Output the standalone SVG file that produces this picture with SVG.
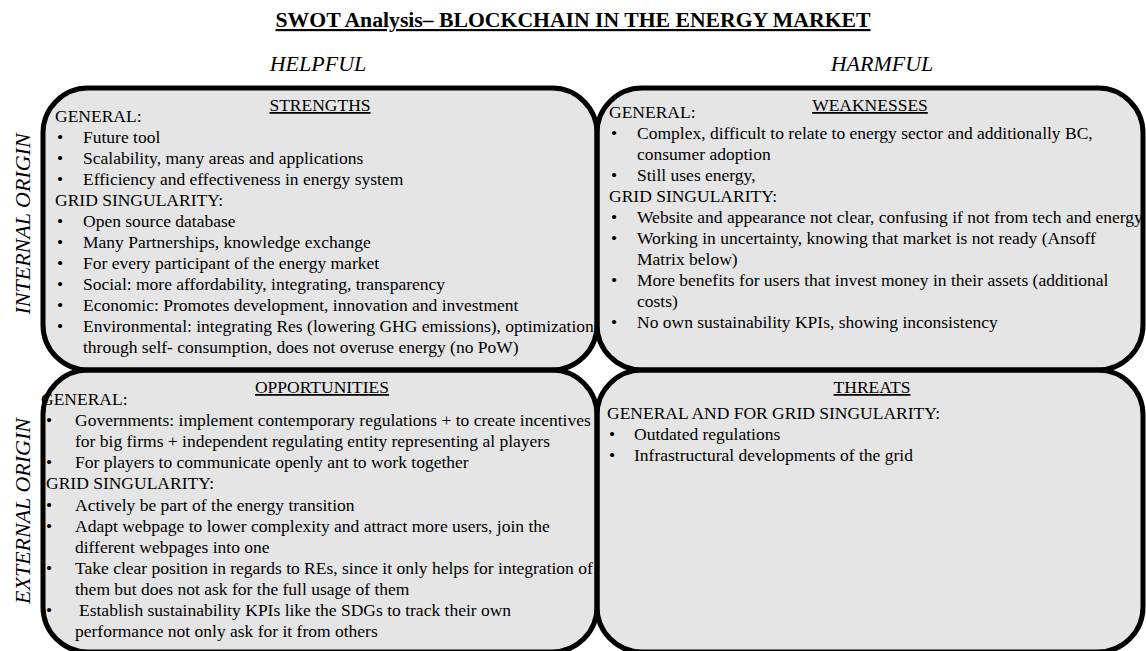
<svg xmlns="http://www.w3.org/2000/svg" width="1146" height="651" viewBox="0 0 1146 651" font-family="Liberation Serif, Tinos, Times New Roman, DejaVu Serif, serif">
  <style>
    text { font-family: 'Liberation Serif', Tinos, 'Times New Roman', 'DejaVu Serif', serif; fill: #000; }
    .title { font-size: 21.7px; font-weight: bold; text-decoration: underline; }
    .axis { font-size: 22px; font-style: italic; }
    .head { font-size: 17.5px; text-decoration: underline; }
    .body { font-size: 17.5px; }
    .box { fill: #e5e5e5; stroke: none; }
    .frame { fill: none; stroke: #000; stroke-width: 5; }
  </style>
  <defs>
    <rect id="quad-left" width="554" height="282" rx="45" ry="45"/>
    <rect id="quad-right" width="546" height="282" rx="45" ry="45"/>
  </defs>

  <rect width="1146" height="651" fill="#fff"/>

  <!-- heading and axis labels -->
  <text class="title" x="573" y="27" text-anchor="middle">SWOT Analysis– BLOCKCHAIN IN THE ENERGY MARKET</text>
  <text class="axis" x="318" y="71" text-anchor="middle">HELPFUL</text>
  <text class="axis" x="882" y="71" text-anchor="middle">HARMFUL</text>
  <text class="axis" transform="translate(30 224) rotate(-90)" text-anchor="middle">INTERNAL ORIGIN</text>
  <text class="axis" transform="translate(30 511) rotate(-90)" text-anchor="middle">EXTERNAL ORIGIN</text>

  <!-- quadrant fills -->
  <use href="#quad-left" class="box" x="43" y="88"/>
  <use href="#quad-right" class="box" x="597" y="88"/>
  <use href="#quad-left" class="box" x="43" y="370"/>
  <use href="#quad-right" class="box" x="597" y="370"/>

  <g id="strengths">
    <text class="head" x="320" y="111" text-anchor="middle">STRENGTHS</text>
    <text class="body" x="55" y="122">GENERAL:</text>
    <text class="body" x="57" y="143">•</text><text class="body" x="83" y="143">Future tool</text>
    <text class="body" x="57" y="164">•</text><text class="body" x="83" y="164">Scalability, many areas and applications</text>
    <text class="body" x="57" y="185">•</text><text class="body" x="83" y="185">Efficiency and effectiveness in energy system</text>
    <text class="body" x="55" y="206">GRID SINGULARITY:</text>
    <text class="body" x="57" y="227">•</text><text class="body" x="83" y="227">Open source database</text>
    <text class="body" x="57" y="248">•</text><text class="body" x="83" y="248">Many Partnerships, knowledge exchange</text>
    <text class="body" x="57" y="269">•</text><text class="body" x="83" y="269">For every participant of the energy market</text>
    <text class="body" x="57" y="290">•</text><text class="body" x="83" y="290">Social: more affordability, integrating, transparency</text>
    <text class="body" x="57" y="311">•</text><text class="body" x="83" y="311">Economic: Promotes development, innovation and investment</text>
    <text class="body" x="57" y="332">•</text><text class="body" x="83" y="332">Environmental: integrating Res (lowering GHG emissions), optimization</text>
    <text class="body" x="83" y="353">through self- consumption, does not overuse energy (no PoW)</text>
  </g>

  <g id="weaknesses">
    <text class="head" x="870" y="111" text-anchor="middle">WEAKNESSES</text>
    <text class="body" x="609" y="118">GENERAL:</text>
    <text class="body" x="611" y="139">•</text><text class="body" x="637" y="139">Complex, difficult to relate to energy sector and additionally BC,</text>
    <text class="body" x="637" y="160">consumer adoption</text>
    <text class="body" x="611" y="181">•</text><text class="body" x="637" y="181">Still uses energy,</text>
    <text class="body" x="609" y="202">GRID SINGULARITY:</text>
    <text class="body" x="611" y="223">•</text><text class="body" x="637" y="223">Website and appearance not clear, confusing if not from tech and energy</text>
    <text class="body" x="611" y="244">•</text><text class="body" x="637" y="244">Working in uncertainty, knowing that market is not ready (Ansoff</text>
    <text class="body" x="637" y="265">Matrix below)</text>
    <text class="body" x="611" y="286">•</text><text class="body" x="637" y="286">More benefits for users that invest money in their assets (additional</text>
    <text class="body" x="637" y="307">costs)</text>
    <text class="body" x="611" y="328">•</text><text class="body" x="637" y="328">No own sustainability KPIs, showing inconsistency</text>
  </g>

  <g id="opportunities">
    <text class="head" x="322" y="393" text-anchor="middle">OPPORTUNITIES</text>
    <text class="body" x="41" y="405">GENERAL:</text>
    <text class="body" x="46" y="426">•</text><text class="body" x="75" y="426">Governments: implement contemporary regulations + to create incentives</text>
    <text class="body" x="75" y="447">for big firms + independent regulating entity representing al players</text>
    <text class="body" x="46" y="468">•</text><text class="body" x="75" y="468">For players to communicate openly ant to work together</text>
    <text class="body" x="46" y="489">GRID SINGULARITY:</text>
    <text class="body" x="46" y="511">•</text><text class="body" x="75" y="511">Actively be part of the energy transition</text>
    <text class="body" x="46" y="532">•</text><text class="body" x="75" y="532">Adapt webpage to lower complexity and attract more users, join the</text>
    <text class="body" x="75" y="553">different webpages into one</text>
    <text class="body" x="46" y="574">•</text><text class="body" x="75" y="574">Take clear position in regards to REs, since it only helps for integration of</text>
    <text class="body" x="75" y="595">them but does not ask for the full usage of them</text>
    <text class="body" x="46" y="616">•</text><text class="body" x="79" y="616">Establish sustainability KPIs like the SDGs to track their own</text>
    <text class="body" x="75" y="637">performance not only ask for it from others</text>
  </g>

  <g id="threats">
    <text class="head" x="872" y="393" text-anchor="middle">THREATS</text>
    <text class="body" x="607" y="419">GENERAL AND FOR GRID SINGULARITY:</text>
    <text class="body" x="609" y="440">•</text><text class="body" x="634" y="440">Outdated regulations</text>
    <text class="body" x="609" y="461">•</text><text class="body" x="634" y="461">Infrastructural developments of the grid</text>
  </g>

  <!-- quadrant outlines drawn last so they sit over any overrunning text -->
  <g id="outlines">
    <use href="#quad-left" class="frame" x="43" y="88"/>
    <use href="#quad-right" class="frame" x="597" y="88"/>
    <use href="#quad-left" class="frame" x="43" y="370"/>
    <use href="#quad-right" class="frame" x="597" y="370"/>
  </g>
</svg>
